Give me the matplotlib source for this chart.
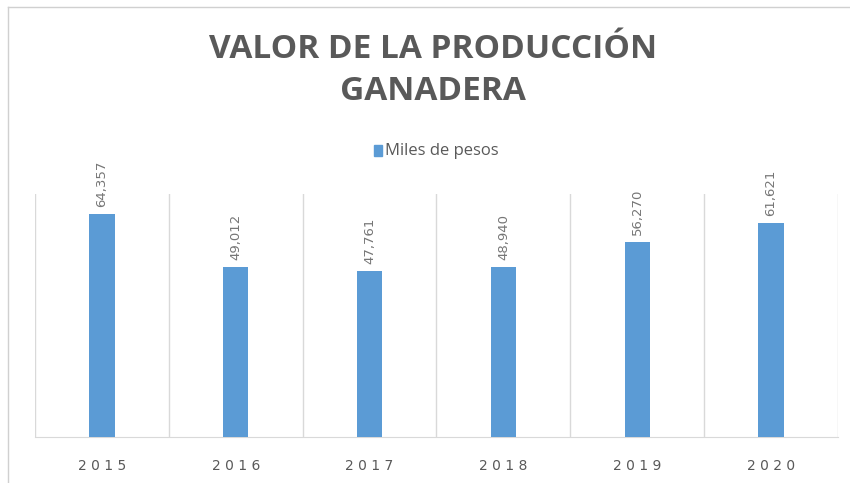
import matplotlib.pyplot as plt
from matplotlib.lines import Line2D

years = ['2015', '2016', '2017', '2018', '2019', '2020']
valores = [64357, 49012, 47761, 48940, 56270, 61621]
etiquetas = ['64,357', '49,012', '47,761', '48,940', '56,270', '61,621']

azul = '#5B9BD5'
gris = '#595959'
grid = '#D9D9D9'

fig = plt.figure(figsize=(8.5, 4.83), dpi=100)
W, H = 850, 483
ax = fig.add_axes([35 / W, (H - 437) / H, (838 - 35) / W, (437 - 194) / H])

x = range(len(years))
ax.bar(x, valores, width=0.19, color=azul, zorder=3)
for i, (v, t) in enumerate(zip(valores, etiquetas)):
    ax.annotate(t, (i, v), xytext=(0, 5), textcoords='offset points',
                rotation=90, ha='center', va='bottom', color='#767676',
                fontsize=9.5, family='DejaVu Sans')

ax.set_xlim(-0.5, len(years) - 0.5)
ax.set_ylim(0, 70000)
for b in range(len(years) + 1):
    ax.axvline(b - 0.5, color=grid, lw=1, zorder=1)
ax.set_yticks([])
ax.set_xticks(list(x))
# espaciado entre letras como en el original
ax.set_xticklabels([' '.join(y) for y in years], color=gris,
                   fontsize=10, family='DejaVu Sans')
ax.tick_params(axis='x', length=0, pad=16)
for s in ['top', 'left', 'right']:
    ax.spines[s].set_visible(False)
ax.spines['bottom'].set_color(grid)

fig.text(433 / W, 1 - 50 / H, 'VALOR DE LA PRODUCCIÓN', ha='center', va='center',
         fontsize=24, fontweight='bold', color=gris, family='Open Sans')
fig.text(433 / W, 1 - 92 / H, 'GANADERA', ha='center', va='center',
         fontsize=24, fontweight='bold', color=gris, family='Open Sans')

fig.patches.append(plt.Rectangle((374 / W, 1 - 156 / H), 8 / W, 11 / H,
                                 transform=fig.transFigure, color=azul))
fig.text(385 / W, 1 - 151 / H, 'Miles de pesos', ha='left', va='center',
         fontsize=12, color=gris, family='Open Sans')

fig.lines.append(Line2D([8 / W, 1], [1 - 7 / H, 1 - 7 / H], transform=fig.transFigure,
                        color='#D0D0D0', lw=1))
fig.lines.append(Line2D([8 / W, 8 / W], [0, 1 - 7 / H], transform=fig.transFigure,
                        color='#D0D0D0', lw=1))

fig.savefig('out.png', dpi=100)
